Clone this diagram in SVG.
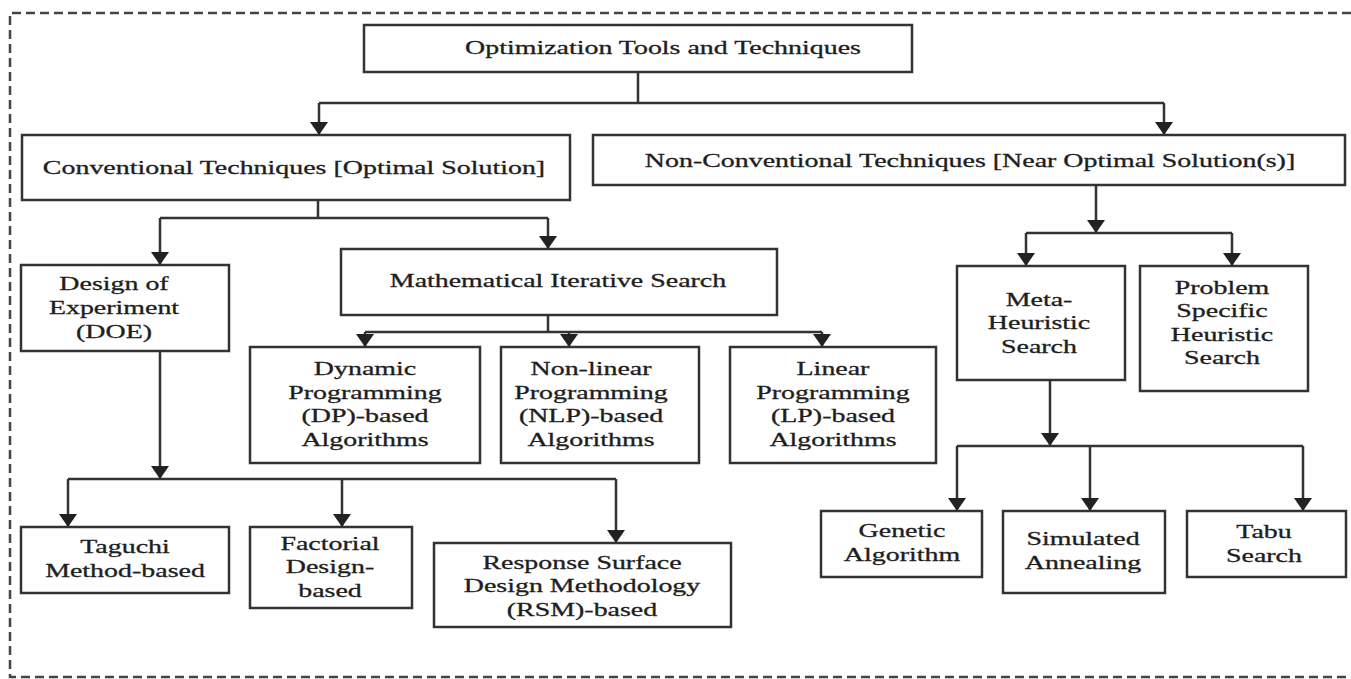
<svg xmlns="http://www.w3.org/2000/svg" width="1351" height="679" viewBox="0 0 1351 679">
<style>
.bx{fill:#fff;stroke:#333;stroke-width:2.5}
.ln{fill:none;stroke:#333;stroke-width:2.5}
.ar{fill:none;stroke:#333;stroke-width:2.5;marker-end:url(#ah)}
.t{font-family:"Liberation Serif","Times New Roman",serif;font-size:19px;fill:#1e1e1e;stroke:#1e1e1e;stroke-width:0.3;text-anchor:middle}
.bd{fill:none;stroke:#444;stroke-width:2.5;stroke-dasharray:9 5}
</style>
<defs>
<marker id="ah" viewBox="0 0 13 18" refX="13" refY="9" markerWidth="13" markerHeight="18" markerUnits="userSpaceOnUse" orient="auto"><path d="M0,0 L13,9 L0,18 z" fill="#222"/></marker>
</defs>
<rect width="1351" height="679" fill="#fff"/>
<path class="bd" d="M1351,13 H10 V677 H1351"/>
<g id="connectors">
<path class="ln" d="M638,72 V103 M319,103 H1164"/>
<path class="ar" d="M319,103 V135"/>
<path class="ar" d="M1164,103 V135"/>
<path class="ln" d="M318,200 V218 M160,218 H548"/>
<path class="ar" d="M160,218 V265"/>
<path class="ar" d="M548,218 V249"/>
<path class="ln" d="M548,315 V332 M365,332 H822"/>
<path class="ar" d="M365,332 V347"/>
<path class="ar" d="M569,332 V347"/>
<path class="ar" d="M822,332 V347"/>
<path class="ar" d="M160,351 V479"/>
<path class="ln" d="M68,479 H616"/>
<path class="ar" d="M68,479 V527"/>
<path class="ar" d="M342,479 V527"/>
<path class="ar" d="M616,479 V543"/>
<path class="ar" d="M1096,185 V233"/>
<path class="ln" d="M1026,233 H1232"/>
<path class="ar" d="M1026,233 V266"/>
<path class="ar" d="M1232,233 V266"/>
<path class="ar" d="M1050,380 V446"/>
<path class="ln" d="M957,446 H1303"/>
<path class="ar" d="M957,446 V511"/>
<path class="ar" d="M1090,446 V511"/>
<path class="ar" d="M1303,446 V511"/>
</g>
<g id="n-top"><rect class="bx" x="364" y="25" width="548" height="47"/>
<text class="t" transform="matrix(1.47,0,0,1,663,54)">Optimization Tools and Techniques</text></g>
<g id="n-conv"><rect class="bx" x="22" y="135" width="548" height="65"/>
<text class="t" transform="matrix(1.47,0,0,1,294,174)">Conventional Techniques [Optimal Solution]</text></g>
<g id="n-nonconv"><rect class="bx" x="593" y="135" width="752" height="50"/>
<text class="t" transform="matrix(1.47,0,0,1,970,167)">Non-Conventional Techniques [Near Optimal Solution(s)]</text></g>
<g id="n-doe"><rect class="bx" x="21" y="265" width="208" height="86"/>
<text class="t" transform="matrix(1.47,0,0,1,114,290)"><tspan x="0" y="0">Design of</tspan><tspan x="0" y="24">Experiment</tspan><tspan x="0" y="48">(DOE)</tspan></text></g>
<g id="n-mis"><rect class="bx" x="341" y="249" width="436" height="66"/>
<text class="t" transform="matrix(1.47,0,0,1,558,287)">Mathematical Iterative Search</text></g>
<g id="n-dp"><rect class="bx" x="250" y="347" width="230" height="116"/>
<text class="t" transform="matrix(1.47,0,0,1,365,375)"><tspan x="0" y="0">Dynamic</tspan><tspan x="0" y="23.7">Programming</tspan><tspan x="0" y="47.4">(DP)-based</tspan><tspan x="0" y="71">Algorithms</tspan></text></g>
<g id="n-nlp"><rect class="bx" x="501" y="347" width="198" height="116"/>
<text class="t" transform="matrix(1.47,0,0,1,591,375)"><tspan x="0" y="0">Non-linear</tspan><tspan x="0" y="23.7">Programming</tspan><tspan x="0" y="47.4">(NLP)-based</tspan><tspan x="0" y="71">Algorithms</tspan></text></g>
<g id="n-lp"><rect class="bx" x="730" y="347" width="206" height="116"/>
<text class="t" transform="matrix(1.47,0,0,1,833,375)"><tspan x="0" y="0">Linear</tspan><tspan x="0" y="23.7">Programming</tspan><tspan x="0" y="47.4">(LP)-based</tspan><tspan x="0" y="71">Algorithms</tspan></text></g>
<g id="n-meta"><rect class="bx" x="957" y="266" width="168" height="114"/>
<text class="t" transform="matrix(1.47,0,0,1,1039,306)"><tspan x="0" y="0">Meta-</tspan><tspan x="0" y="23.5">Heuristic</tspan><tspan x="0" y="47">Search</tspan></text></g>
<g id="n-problem"><rect class="bx" x="1140" y="266" width="168" height="125"/>
<text class="t" transform="matrix(1.47,0,0,1,1222,294)"><tspan x="0" y="0">Problem</tspan><tspan x="0" y="23.5">Specific</tspan><tspan x="0" y="47">Heuristic</tspan><tspan x="0" y="70.5">Search</tspan></text></g>
<g id="n-taguchi"><rect class="bx" x="21" y="527" width="208" height="66"/>
<text class="t" transform="matrix(1.47,0,0,1,125,553)"><tspan x="0" y="0">Taguchi</tspan><tspan x="0" y="24">Method-based</tspan></text></g>
<g id="n-factorial"><rect class="bx" x="250" y="527" width="162" height="81"/>
<text class="t" transform="matrix(1.47,0,0,1,330,550)"><tspan x="0" y="0">Factorial</tspan><tspan x="0" y="23.5">Design-</tspan><tspan x="0" y="47">based</tspan></text></g>
<g id="n-rsm"><rect class="bx" x="434" y="543" width="297" height="84"/>
<text class="t" transform="matrix(1.47,0,0,1,582,569)"><tspan x="0" y="0">Response Surface</tspan><tspan x="0" y="23.5">Design Methodology</tspan><tspan x="0" y="47">(RSM)-based</tspan></text></g>
<g id="n-genetic"><rect class="bx" x="821" y="511" width="161" height="66"/>
<text class="t" transform="matrix(1.47,0,0,1,902,537)"><tspan x="0" y="0">Genetic</tspan><tspan x="0" y="24">Algorithm</tspan></text></g>
<g id="n-sa"><rect class="bx" x="1003" y="511" width="162" height="82"/>
<text class="t" transform="matrix(1.47,0,0,1,1083,545)"><tspan x="0" y="0">Simulated</tspan><tspan x="0" y="24">Annealing</tspan></text></g>
<g id="n-tabu"><rect class="bx" x="1187" y="511" width="159" height="66"/>
<text class="t" transform="matrix(1.47,0,0,1,1264,538)"><tspan x="0" y="0">Tabu</tspan><tspan x="0" y="24">Search</tspan></text></g>
</svg>
